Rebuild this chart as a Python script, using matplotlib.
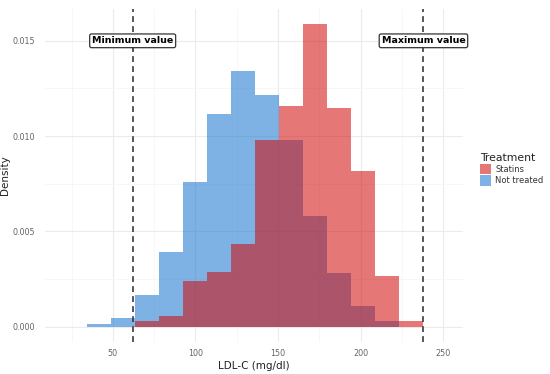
import matplotlib
matplotlib.use("Agg")
import matplotlib.pyplot as plt
import numpy as np
from matplotlib.patches import Patch

# Data
bin_edges = [34.5, 49.0, 63.5, 78.0, 92.5, 107.0, 121.5, 136.0, 150.5, 165.0,
             179.5, 194.0, 208.5, 223.0, 237.5]
not_treated = [0.00016, 0.00046, 0.00166, 0.00392, 0.00757, 0.01118, 0.01340,
               0.01214, 0.00982, 0.00579, 0.00282, 0.00110, 0.00028, 0.0]
statins = [0.0, 0.0, 0.00028, 0.00059, 0.00241, 0.00285, 0.00434,
           0.00982, 0.01160, 0.01590, 0.01147, 0.00819, 0.00268, 0.00028]
min_value = 62
max_value = 238
x_ticks = [50, 100, 150, 200, 250]
y_ticks = [0.000, 0.005, 0.010, 0.015]
y_tick_labels = ["0.000", "0.005", "0.010", "0.015"]
legend_labels = ["Statins", "Not treated"]

fig = plt.figure(figsize=(5.5, 3.74), dpi=100)
ax = fig.add_axes([0.082, 0.086, 0.760, 0.890])

lefts = np.array(bin_edges[:-1])
widths = np.diff(bin_edges)
alpha = 0.55
blue = "#1673CF"
red = "#D10707"
ax.bar(lefts, not_treated, width=widths, align="edge", color=blue, alpha=alpha,
       linewidth=0, zorder=2)
ax.bar(lefts, statins, width=widths, align="edge", color=red, alpha=alpha,
       linewidth=0, zorder=3)

ax.axvline(min_value, color="#3a3a3a", linestyle=(0, (3.5, 2.5)), linewidth=1.2, zorder=4)
ax.axvline(max_value, color="#3a3a3a", linestyle=(0, (3.5, 2.5)), linewidth=1.2, zorder=4)

box = dict(boxstyle="round,pad=0.25,rounding_size=0.2", fc="white", ec="#333333", lw=0.9)
ax.text(min_value, 0.015, "Minimum value", ha="center", va="center", fontsize=6.8,
        fontweight="bold", color="black", bbox=box, zorder=5)
ax.text(max_value, 0.015, "Maximum value", ha="center", va="center", fontsize=6.8,
        fontweight="bold", color="black", bbox=box, zorder=5)

ax.set_xlim(9, 262)
ax.set_ylim(-0.00079, 0.01667)
ax.set_xticks(x_ticks)
ax.set_xticks([25, 75, 125, 175, 225], minor=True)
ax.set_yticks(y_ticks)
ax.set_yticklabels(y_tick_labels)
ax.set_yticks([0.0025, 0.0075, 0.0125], minor=True)
ax.grid(which="major", color="#EBEBEB", linewidth=0.8, zorder=0)
ax.grid(which="minor", color="#F4F4F4", linewidth=0.5, zorder=0)
ax.set_axisbelow(True)
for s in ax.spines.values():
    s.set_visible(False)
ax.tick_params(which="both", length=0, labelsize=5.8, labelcolor="#666666")
ax.tick_params(axis="y", pad=7)
ax.tick_params(axis="x", pad=5)

ax.set_xlabel("LDL-C (mg/dl)", fontsize=7.5, color="#222222", labelpad=2)
ax.set_ylabel("Density", fontsize=7.5, color="#222222", labelpad=2)

# Legend
handles = [Patch(facecolor=red, alpha=alpha, edgecolor="none"),
           Patch(facecolor=blue, alpha=alpha, edgecolor="none")]
leg = fig.legend(handles, legend_labels, title="Treatment", loc="upper left",
                 bbox_to_anchor=(0.866, 0.600), frameon=False, fontsize=6,
                 title_fontsize=7.8, handlelength=1.4, handleheight=1.6,
                 handletextpad=0.5, labelspacing=0.1, borderaxespad=0)
leg._legend_box.align = "left"
for t in leg.get_texts():
    t.set_color("#333333")
leg.get_title().set_color("#222222")

fig.savefig("out.png", dpi=100)
